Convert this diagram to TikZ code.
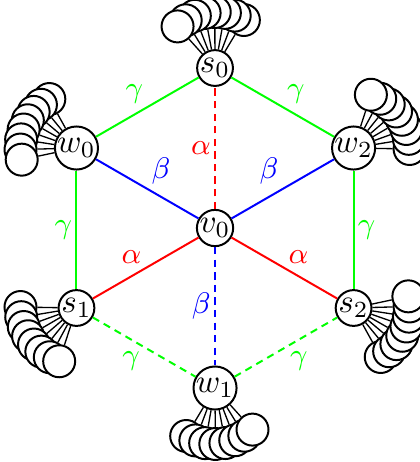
\documentclass[tikz,border=0pt]{standalone}
\usepackage{amsmath, amssymb}
\usepackage{tikz}
\usetikzlibrary{backgrounds}
\tikzset{
  vert/.style={circle, draw, fill=white, inner sep=0pt, semithick},
  leaf/.style={circle, draw, fill=white, inner sep=0pt, minimum size=0.34cm, semithick},
  lab/.style={font=\small, inner sep=1pt},
  dsh/.style={dash pattern=on 2.2pt off 1.6pt},
}
\begin{document}
\begin{tikzpicture}[x=1.7cm, y=1.7cm, semithick]
  \useasboundingbox (-1.344,-1.4625) rectangle (1.275,1.425);
  % hexagon vertices and centre
  \node[vert] (v0) at (0,0) {$v_0$};
  \node[vert] (s0) at (90:1) {$s_0$};
  \node[vert] (w0) at (150:1) {$w_0$};
  \node[vert] (s1) at (210:1) {$s_1$};
  \node[vert] (w1) at (270:1) {$w_1$};
  \node[vert] (s2) at (330:1) {$s_2$};
  \node[vert] (w2) at (30:1) {$w_2$};
  % fans of leaves
  \foreach \v/\a in {s0/90, w0/150, s1/210, w1/270, s2/330, w2/30} {
    \foreach \k in {1,...,8} {
      \node[leaf] (\v-\k) at ([shift={({\a-41.43+10.43*\k}:0.35)}]\v) {};
      \begin{scope}[on background layer]
        \draw (\v) -- (\v-\k);
      \end{scope}
    }
  }
  % outer edges
  \draw[green] (s0) -- node[lab, above left] {$\gamma$} (w0);
  \draw[green] (s0) -- node[lab, above right] {$\gamma$} (w2);
  \draw[green] (w0) -- node[lab, left] {$\gamma$} (s1);
  \draw[green] (w2) -- node[lab, right] {$\gamma$} (s2);
  \draw[green, dsh] (s1) -- node[lab, below left] {$\gamma$} (w1);
  \draw[green, dsh] (w1) -- node[lab, below right] {$\gamma$} (s2);
  % spokes
  \draw[red, dsh] (v0) -- node[lab, left] {$\alpha$} (s0);
  \draw[red] (v0) -- node[lab, above left] {$\alpha$} (s1);
  \draw[red] (v0) -- node[lab, above right] {$\alpha$} (s2);
  \draw[blue] (v0) -- node[lab, above right] {$\beta$} (w0);
  \draw[blue] (v0) -- node[lab, above left] {$\beta$} (w2);
  \draw[blue, dsh] (v0) -- node[lab, left] {$\beta$} (w1);
\end{tikzpicture}
\end{document}
